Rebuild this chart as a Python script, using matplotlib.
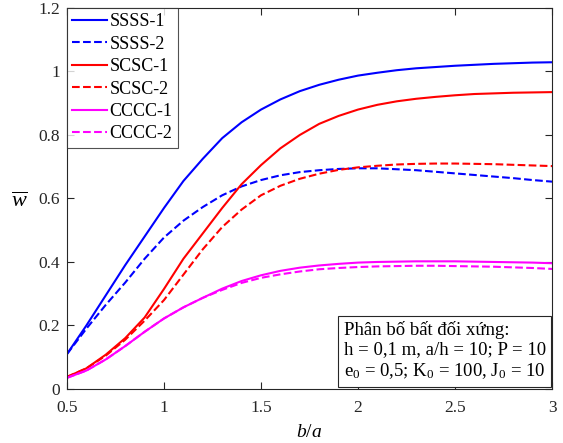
import numpy as np
import matplotlib
matplotlib.use('Agg')
from matplotlib import pyplot as plt

plt.rcParams['font.family'] = 'Liberation Serif'
plt.rcParams['mathtext.fontset'] = 'custom'
plt.rcParams['mathtext.rm'] = 'Liberation Serif'
plt.rcParams['mathtext.it'] = 'Liberation Serif:italic'

ba = [0.5, 0.6, 0.7, 0.8, 0.9, 1.0, 1.1, 1.2, 1.3, 1.4, 1.5, 1.6, 1.7,
      1.8, 1.9, 2.0, 2.1, 2.2, 2.3, 2.4, 2.5, 2.6, 2.7, 2.8, 2.9, 3.0]

ssss1 = [0.110, 0.200, 0.295, 0.390, 0.480, 0.570, 0.655, 0.725, 0.790, 0.840, 0.880, 0.912, 0.938,
         0.958, 0.974, 0.987, 0.996, 1.004, 1.010, 1.014, 1.018, 1.021, 1.024, 1.026, 1.028, 1.029]
ssss2 = [0.110, 0.190, 0.265, 0.335, 0.410, 0.477, 0.530, 0.573, 0.610, 0.638, 0.658, 0.673, 0.683,
         0.689, 0.693, 0.695, 0.695, 0.692, 0.689, 0.684, 0.679, 0.674, 0.669, 0.664, 0.658, 0.653]
scsc1 = [0.038, 0.065, 0.108, 0.160, 0.225, 0.315, 0.410, 0.490, 0.570, 0.645, 0.705, 0.758, 0.800,
         0.835, 0.860, 0.880, 0.895, 0.906, 0.914, 0.920, 0.925, 0.929, 0.931, 0.933, 0.934, 0.935]
scsc2 = [0.038, 0.065, 0.105, 0.155, 0.215, 0.280, 0.360, 0.440, 0.510, 0.565, 0.610, 0.640, 0.662,
         0.678, 0.690, 0.698, 0.703, 0.707, 0.709, 0.710, 0.710, 0.709, 0.708, 0.706, 0.704, 0.702]
cccc1 = [0.035, 0.058, 0.093, 0.135, 0.180, 0.222, 0.257, 0.287, 0.316, 0.340, 0.358, 0.372, 0.382,
         0.389, 0.394, 0.398, 0.400, 0.401, 0.402, 0.402, 0.402, 0.401, 0.400, 0.399, 0.398, 0.396]
cccc2 = [0.035, 0.058, 0.093, 0.135, 0.180, 0.222, 0.257, 0.287, 0.312, 0.334, 0.350, 0.361, 0.370,
         0.377, 0.381, 0.384, 0.386, 0.387, 0.388, 0.388, 0.387, 0.386, 0.385, 0.383, 0.381, 0.378]

fig = plt.figure(figsize=(5.63, 4.43), dpi=100)
ax = fig.add_axes([0.119, 0.122, 0.8615, 0.86])

ax.plot(ba, ssss1, '-', color='#0000ff', lw=1.5, label='SSSS-1')
ax.plot(ba, ssss2, '--', color='#0000ff', lw=1.5, label='SSSS-2')
ax.plot(ba, scsc1, '-', color='#ff0000', lw=1.5, label='SCSC-1')
ax.plot(ba, scsc2, '--', color='#ff0000', lw=1.5, label='SCSC-2')
ax.plot(ba, cccc1, '-', color='#ff00ff', lw=1.5, label='CCCC-1')
ax.plot(ba, cccc2, '--', color='#ff00ff', lw=1.5, label='CCCC-2')

ax.set_xlim(0.5, 3)
ax.set_ylim(0, 1.2)
ax.set_xticks([0.5, 1, 1.5, 2, 2.5, 3])
ax.set_xticklabels(['0.5', '1', '1.5', '2', '2.5', '3'])
ax.set_yticks([0, 0.2, 0.4, 0.6, 0.8, 1, 1.2])
ax.set_yticklabels(['0', '0.2', '0.4', '0.6', '0.8', '1', '1.2'])
ax.tick_params(direction='in', top=True, right=True, labelsize=12.5, length=5, colors='#262626')
ax.tick_params(axis='x', pad=8)
ax.tick_params(axis='y', pad=5)
for s in ax.spines.values():
    s.set_linewidth(0.8)
    s.set_color('#262626')

ax.set_xlabel('$b/a$', fontsize=14, labelpad=6)
ax.set_ylabel(r'$\overline{w}$', fontsize=16, rotation=0, ha='center', va='center')
ax.yaxis.set_label_coords(-0.099, 0.49)

leg = ax.legend(loc='upper left', fontsize=13, frameon=True, fancybox=False,
                handlelength=1.9, handletextpad=0.15, borderaxespad=0.0,
                labelspacing=0.3, borderpad=0.3)
leg.get_frame().set_edgecolor('#262626')
leg.get_frame().set_linewidth(0.8)

ax.text(0.987, 0.02,
        'Phân bố bất đối xứng:\nh = 0,1 m, a/h = 10; P = 10\ne$_0$ = 0,5; K$_0$ = 100, J$_0$ = 10',
        transform=ax.transAxes, ha='right', va='bottom', multialignment='left',
        fontsize=13.5, linespacing=1.2,
        bbox=dict(boxstyle='square,pad=0.3', fc='white', ec='#262626', lw=0.8))

plt.savefig('out.png')
